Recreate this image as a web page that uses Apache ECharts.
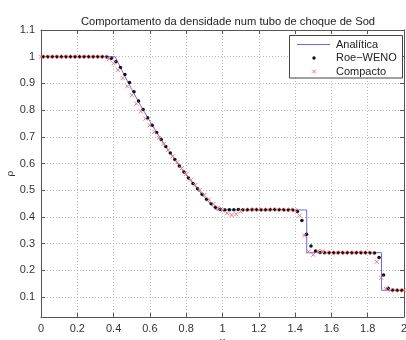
<!DOCTYPE html>
<html>
<head>
<meta charset="utf-8">
<script src="https://cdn.jsdelivr.net/npm/echarts@6/dist/echarts.min.js"></script>
<style>html,body{margin:0;padding:0;background:#fff}#c{width:406px;height:340px}</style>
</head>
<body>
<div id="c"></div>
<script>
// ---- data ----
const titleText = 'Comportamento da densidade num tubo de choque de Sod';
const xTicks = [0, 0.2, 0.4, 0.6, 0.8, 1, 1.2, 1.4, 1.6, 1.8, 2];
const yTicks = [0.1, 0.2, 0.3, 0.4, 0.5, 0.6, 0.7, 0.8, 0.9, 1, 1.1];

const anaX   = [0, 0.408, 0.45, 0.5, 0.55, 0.6, 0.65, 0.7, 0.75, 0.8, 0.85, 0.9, 0.965, 1.464, 1.464, 1.876, 1.876, 2];
const anaRho = [1, 1, 0.943, 0.877, 0.816, 0.758, 0.703, 0.651, 0.603, 0.557, 0.515, 0.474, 0.426, 0.426, 0.266, 0.266, 0.125, 0.125];

const roeX = [0.0125,0.0375,0.0625,0.0875,0.1125,0.1375,0.1625,0.1875,0.2125,0.2375,
  0.2625,0.2875,0.3125,0.3375,0.3625,0.3875,0.4125,0.4375,0.4625,0.4875,
  0.5125,0.5375,0.5625,0.5875,0.6125,0.6375,0.6625,0.6875,0.7125,0.7375,
  0.7625,0.7875,0.8125,0.8375,0.8625,0.8875,0.9125,0.9375,0.9625,0.9875,
  1.0125,1.0375,1.0625,1.0875,1.1125,1.1375,1.1625,1.1875,1.2125,1.2375,
  1.2625,1.2875,1.3125,1.3375,1.3625,1.3875,1.4125,1.4375,1.4625,1.4875,
  1.5125,1.5375,1.5625,1.5875,1.6125,1.6375,1.6625,1.6875,1.7125,1.7375,
  1.7625,1.7875,1.8125,1.8375,1.8625,1.8875,1.9125,1.9375,1.9625,1.9875];
const roeRho = [1,1,1,1,1,1,1,1,1,1,
  1,1,1,1,0.999,0.994,0.981,0.960,0.933,0.903,
  0.869,0.834,0.802,0.771,0.743,0.716,0.690,0.664,0.639,0.615,
  0.591,0.568,0.546,0.525,0.505,0.485,0.466,0.449,0.436,0.429,
  0.427,0.427,0.427,0.428,0.427,0.427,0.427,0.427,0.427,0.427,
  0.427,0.428,0.427,0.427,0.426,0.426,0.420,0.386,0.335,0.291,
  0.272,0.267,0.266,0.266,0.266,0.266,0.266,0.266,0.266,0.266,
  0.266,0.266,0.266,0.265,0.248,0.182,0.133,0.126,0.125,0.125];

const cmpX = [0,0.025,0.05,0.075,0.1,0.125,0.15,0.175,0.2,0.225,
  0.25,0.275,0.3,0.325,0.35,0.375,0.4,0.425,0.45,0.475,
  0.5,0.525,0.55,0.575,0.6,0.625,0.65,0.675,0.7,0.725,
  0.75,0.775,0.8,0.825,0.85,0.875,0.9,0.925,0.95,0.975,
  1,1.025,1.05,1.075,1.1,1.125,1.15,1.175,1.2,1.225,
  1.25,1.275,1.3,1.325,1.35,1.375,1.4,1.425,1.45,1.475,
  1.5,1.525,1.55,1.575,1.6,1.625,1.65,1.675,1.7,1.725,
  1.75,1.775,1.8,1.825,1.85,1.875,1.9,1.925,1.95,1.975,2];
const cmpRho = [1,1,1,1,1,1,1,1,1,1,
  1,1,1,1,1,0.992,0.975,0.950,0.920,0.889,
  0.856,0.824,0.795,0.768,0.743,0.719,0.696,0.673,0.650,0.627,
  0.604,0.582,0.560,0.539,0.519,0.500,0.482,0.465,0.448,0.434,
  0.424,0.414,0.407,0.410,0.420,0.426,0.427,0.428,0.427,0.426,
  0.427,0.428,0.427,0.427,0.426,0.427,0.425,0.405,0.330,0.270,
  0.258,0.272,0.271,0.266,0.266,0.266,0.266,0.266,0.266,0.266,
  0.266,0.266,0.266,0.265,0.232,0.172,0.130,0.125,0.125,0.125,0.125];

const names = ['Analítica', 'Roe\u2212WENO', 'Compacto'];

// ---- chart ----
const FONT = 'Liberation Sans, Arial, sans-serif';
const LINE_C = '#6a6af0', DOT_C = '#111', X_C = '#f07878';
const XPATH = 'path://M0,0L10,10M10,0L0,10';
const zip = (a, b) => a.map((v, i) => [v, b[i]]);
const chart = echarts.init(document.getElementById('c'), null, {renderer: 'canvas'});
const TXT = '#333';
const AX = '#555';
const axBase = {
  axisLine: {show: true, onZero: false, lineStyle: {color: AX, width: 1}},
  axisTick: {show: true, inside: true, length: 4, lineStyle: {color: AX}},
};
const fmt = list => v => { const t = list.find(k => Math.abs(k - v) < 1e-6); return t === undefined ? '' : String(t); };
const xMain = Object.assign({}, axBase, {
  type: 'value', min: 0, max: 2, interval: 0.2, position: 'bottom',
  name: 'x', nameLocation: 'middle', nameGap: 19, nameMoveOverlap: false,
  nameTextStyle: {fontFamily: FONT, fontSize: 11, color: TXT},
  axisLabel: {show: true, fontFamily: FONT, fontSize: 11, color: TXT, margin: 6, formatter: fmt(xTicks)},
  splitLine: {show: true, lineStyle: {color: '#bbb', type: [1, 2], width: 1}}
});
const xTop = Object.assign({}, axBase, {
  type: 'value', min: 0, max: 2, interval: 0.2, position: 'top',
  axisLabel: {show: false}, splitLine: {show: false}
});
const yMain = Object.assign({}, axBase, {
  type: 'value', min: 0.025, max: 1.1, splitNumber: 11, position: 'left',
  name: '\u03c1', nameLocation: 'middle', nameGap: 26, nameRotate: 90, nameMoveOverlap: false,
  nameTextStyle: {fontFamily: 'DejaVu Serif, serif', fontSize: 10, color: TXT},
  axisLabel: {show: true, showMinLabel: false, fontFamily: FONT, fontSize: 11, color: TXT, margin: 6, formatter: fmt(yTicks)},
  splitLine: {show: true, lineStyle: {color: '#bbb', type: [1, 2], width: 1}}
});
const yRight = Object.assign({}, axBase, {
  type: 'value', min: 0.025, max: 1.1, splitNumber: 11, position: 'right',
  axisLabel: {show: false}, splitLine: {show: false}
});

// legend drawn as graphic (box, samples, real text)
const legX = 289.5, legY = 35.5, legW = 113, legH = 42.5;
const rowsY = [44.5, 58, 71.5];
const legText = (t, y) => ({type: 'text', x: 336, y: y, z: 6,
  style: {text: t, fontFamily: FONT, fontSize: 11, fill: '#222', verticalAlign: 'middle', align: 'left'}});

const option = {
  animation: false,
  backgroundColor: '#fff',
  title: {text: titleText, left: 223, top: 11, textAlign: 'center',
    textStyle: {fontFamily: FONT, fontSize: 11.2, fontWeight: 'normal', color: '#222'}},
  grid: {left: 41, right: 2, top: 30, bottom: 23, containLabel: false, outerBoundsMode: 'none'},
  xAxis: [xMain, xTop],
  yAxis: [yMain, yRight],
  graphic: [
    {type: 'rect', shape: {x: legX, y: legY, width: legW, height: legH},
     style: {fill: '#fff', stroke: '#444', lineWidth: 1}, z: 5},
    {type: 'line', shape: {x1: 297, y1: rowsY[0], x2: 330, y2: rowsY[0]}, style: {stroke: LINE_C, lineWidth: 1}, z: 6},
    {type: 'circle', shape: {cx: 314, cy: rowsY[1], r: 1.7}, style: {fill: DOT_C}, z: 6},
    {type: 'polyline', shape: {points: [[312, rowsY[2] - 2], [316, rowsY[2] + 2]]}, style: {stroke: X_C, lineWidth: 1}, z: 6},
    {type: 'polyline', shape: {points: [[316, rowsY[2] - 2], [312, rowsY[2] + 2]]}, style: {stroke: X_C, lineWidth: 1}, z: 6},
    legText(names[0], rowsY[0]),
    legText(names[1], rowsY[1]),
    legText(names[2], rowsY[2])
  ],
  series: [
    {name: names[0], type: 'line', data: zip(anaX, anaRho), showSymbol: false, symbol: 'none',
     lineStyle: {color: LINE_C, width: 1}, itemStyle: {color: LINE_C}, z: 2},
    {name: names[1], type: 'scatter', data: zip(roeX, roeRho), symbol: 'circle', symbolSize: 3.5,
     itemStyle: {color: DOT_C, opacity: 1}, z: 3},
    {name: names[2], type: 'scatter', data: zip(cmpX, cmpRho), symbol: XPATH, symbolSize: 4,
     itemStyle: {color: 'none', borderColor: X_C, borderWidth: 1, opacity: 1}, z: 4}
  ]
};
chart.setOption(option);
</script>
</body>
</html>
